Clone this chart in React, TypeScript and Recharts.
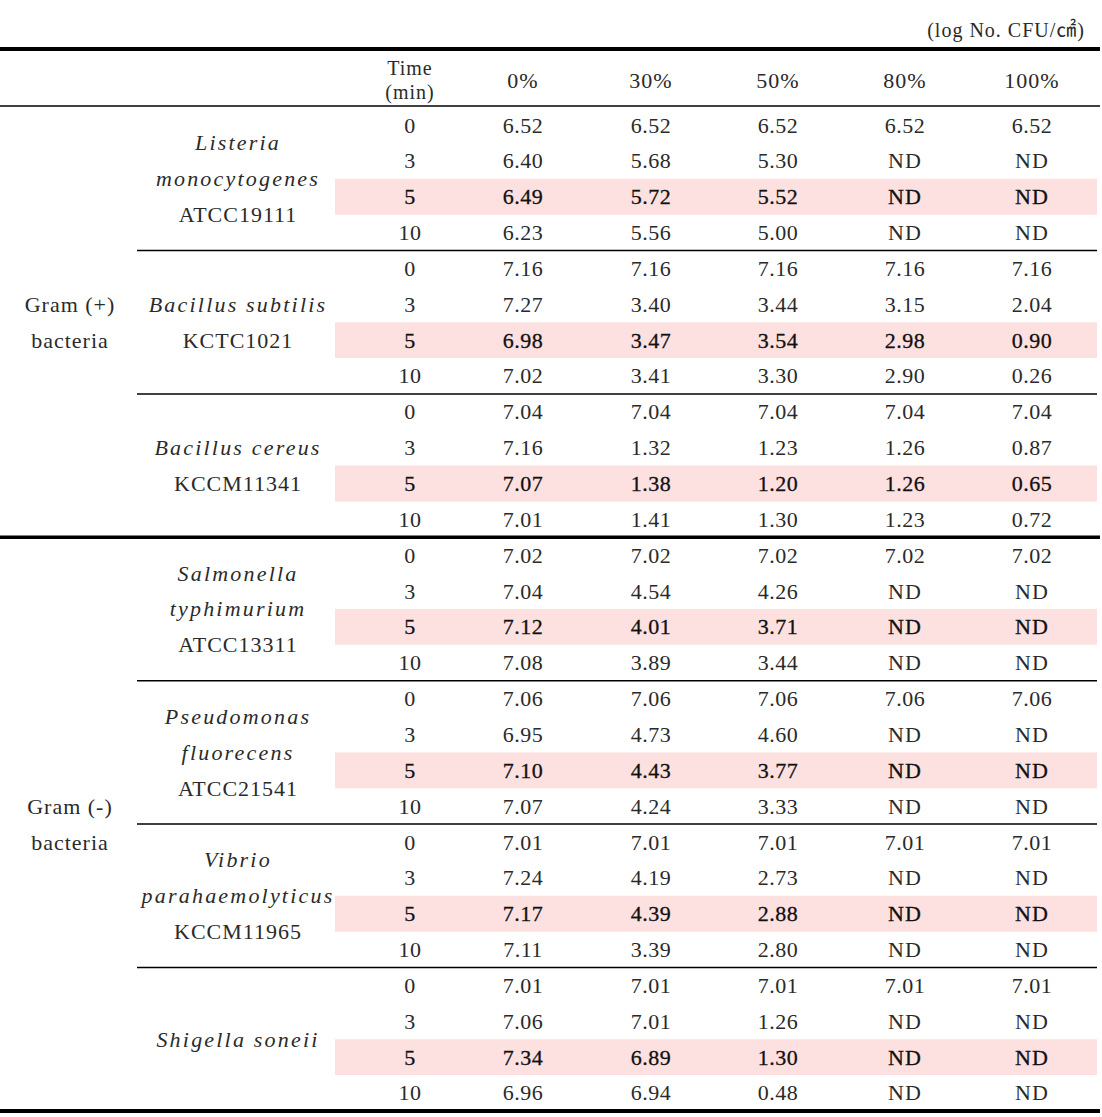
/**
 * Survival table - log CFU per concentration and exposure time
 * Drawn as text marks on a ScatterChart grid
 */

import {
  ScatterChart,
  Scatter,
  XAxis,
  YAxis,
  ReferenceArea,
  ReferenceLine,
} from 'recharts'

// Data
const unitLabel = '(log No. CFU/㎠)'
const concentrations = ['0%', '30%', '50%', '80%', '100%']
const times = [0, 3, 5, 10]
const highlightTime = 5

type Row = (number | null)[] // null = ND

const listeria: Row[] = [
  [6.52, 6.52, 6.52, 6.52, 6.52],
  [6.4, 5.68, 5.3, null, null],
  [6.49, 5.72, 5.52, null, null],
  [6.23, 5.56, 5.0, null, null],
]
const bacillusSubtilis: Row[] = [
  [7.16, 7.16, 7.16, 7.16, 7.16],
  [7.27, 3.4, 3.44, 3.15, 2.04],
  [6.98, 3.47, 3.54, 2.98, 0.9],
  [7.02, 3.41, 3.3, 2.9, 0.26],
]
const bacillusCereus: Row[] = [
  [7.04, 7.04, 7.04, 7.04, 7.04],
  [7.16, 1.32, 1.23, 1.26, 0.87],
  [7.07, 1.38, 1.2, 1.26, 0.65],
  [7.01, 1.41, 1.3, 1.23, 0.72],
]
const salmonella: Row[] = [
  [7.02, 7.02, 7.02, 7.02, 7.02],
  [7.04, 4.54, 4.26, null, null],
  [7.12, 4.01, 3.71, null, null],
  [7.08, 3.89, 3.44, null, null],
]
const pseudomonas: Row[] = [
  [7.06, 7.06, 7.06, 7.06, 7.06],
  [6.95, 4.73, 4.6, null, null],
  [7.1, 4.43, 3.77, null, null],
  [7.07, 4.24, 3.33, null, null],
]
const vibrio: Row[] = [
  [7.01, 7.01, 7.01, 7.01, 7.01],
  [7.24, 4.19, 2.73, null, null],
  [7.17, 4.39, 2.88, null, null],
  [7.11, 3.39, 2.8, null, null],
]
const shigella: Row[] = [
  [7.01, 7.01, 7.01, 7.01, 7.01],
  [7.06, 7.01, 1.26, null, null],
  [7.34, 6.89, 1.3, null, null],
  [6.96, 6.94, 0.48, null, null],
]

interface Strain {
  name: string[] // italic lines
  code?: string
  values: Row[]
}

const strains: Strain[] = [
  { name: ['Listeria', 'monocytogenes'], code: 'ATCC19111', values: listeria },
  { name: ['Bacillus  subtilis'], code: 'KCTC1021', values: bacillusSubtilis },
  { name: ['Bacillus  cereus'], code: 'KCCM11341', values: bacillusCereus },
  { name: ['Salmonella', 'typhimurium'], code: 'ATCC13311', values: salmonella },
  { name: ['Pseudomonas', 'fluorecens'], code: 'ATCC21541', values: pseudomonas },
  { name: ['Vibrio', 'parahaemolyticus'], code: 'KCCM11965', values: vibrio },
  { name: ['Shigella  soneii'], values: shigella },
]

const groups = [
  { label: ['Gram  (+)', 'bacteria'], strains: 3 },
  { label: ['Gram  (-)', 'bacteria'], strains: 4 },
]

// Layout
const WIDTH = 1102
const HEIGHT = 1117
const ROW_TOP = 125 // centre of first body row, px
const ROW_H = 35.85
const GROUP_X = 70
const STRAIN_X = 238
const TIME_X = 410
const VALUE_X = [523, 651, 778, 905, 1032]
const TABLE_RIGHT = 1100
const FONT = "'Liberation Serif', 'Times New Roman', 'DejaVu Serif', 'Noto Sans CJK KR', serif"

interface TextCell {
  x: number
  y: number
  text: string
  italic?: boolean
  emph?: boolean
  anchor?: 'start' | 'middle' | 'end'
  size?: number
}

const rowsPerStrain = times.length
const totalRows = strains.length * rowsPerStrain

function buildCells(): TextCell[] {
  const cells: TextCell[] = []

  // caption + header
  cells.push({ x: 1085, y: -2.65, text: unitLabel, anchor: 'end', size: 20 })
  cells.push({ x: TIME_X, y: -1.6, text: 'Time', size: 20 })
  cells.push({ x: TIME_X, y: -0.93, text: '(min)', size: 20 })
  concentrations.forEach((c, i) => cells.push({ x: VALUE_X[i], y: -1.23, text: c }))

  // body
  strains.forEach((s, si) => {
    const base = si * rowsPerStrain
    const lines = [...s.name.map((t) => ({ t, italic: true }))]
    if (s.code) lines.push({ t: s.code, italic: false })
    const mid = base + (rowsPerStrain - 1) / 2
    lines.forEach((l, li) => {
      cells.push({
        x: STRAIN_X,
        y: mid + li - (lines.length - 1) / 2,
        text: l.t,
        italic: l.italic,
      })
    })
    s.values.forEach((vals, ti) => {
      const r = base + ti
      const emph = times[ti] === highlightTime
      cells.push({ x: TIME_X, y: r, text: String(times[ti]), emph })
      vals.forEach((v, ci) => {
        cells.push({
          x: VALUE_X[ci],
          y: r,
          text: v == null ? 'ND' : v.toFixed(2),
          emph,
        })
      })
    })
  })

  // group labels
  let start = 0
  groups.forEach((g) => {
    const mid = start + (g.strains * rowsPerStrain - 1) / 2
    g.label.forEach((t, i) =>
      cells.push({ x: GROUP_X, y: mid + i - (g.label.length - 1) / 2, text: t })
    )
    start += g.strains * rowsPerStrain
  })

  return cells
}

const cells = buildCells()

// group boundaries (row index where each group ends)
const groupEnds: number[] = []
{
  let acc = 0
  groups.forEach((g) => {
    acc += g.strains * rowsPerStrain
    groupEnds.push(acc - 0.5)
  })
}
const strainEnds = strains
  .map((_, i) => (i + 1) * rowsPerStrain - 0.5)
  .filter((r) => !groupEnds.includes(r))

const yMin = -ROW_TOP / ROW_H
const yMax = (HEIGHT - ROW_TOP) / ROW_H

function TextShape(props: any) {
  const { cx, cy, payload } = props
  const c = payload as TextCell
  const numeric = /^[0-9.]+$/.test(c.text)
  return (
    <text
      x={cx}
      y={cy}
      textAnchor={c.anchor || 'middle'}
      dominantBaseline="central"
      style={{
        fontFamily: FONT,
        fontSize: c.size || 22,
        fontStyle: c.italic ? 'italic' : 'normal',
        letterSpacing: c.italic ? 2.2 : numeric ? 0.5 : 1,
      }}
      fill={c.emph ? '#111' : '#2a2a2a'}
      stroke={c.emph ? '#111' : 'none'}
      strokeWidth={c.emph ? 0.3 : 0}
    >
      {c.text}
    </text>
  )
}

export default function App() {
  return (
    <div style={{ position: 'absolute', left: 0, top: 0, background: '#fff' }}>
      <ScatterChart
        width={WIDTH}
        height={HEIGHT}
        margin={{ top: 0, right: 0, bottom: 0, left: 0 }}
      >
        <XAxis type="number" dataKey="x" domain={[0, WIDTH]} hide />
        <YAxis
          type="number"
          dataKey="y"
          domain={[yMin, yMax]}
          reversed
          hide
          width={0}
        />

        {/* highlighted rows */}
        {strains.map((_, si) => {
          const r = si * rowsPerStrain + times.indexOf(highlightTime)
          return (
            <ReferenceArea
              key={`hl-${si}`}
              x1={335}
              x2={1097}
              y1={r - 0.5}
              y2={r + 0.5}
              fill="#fde0e0"
              fillOpacity={1}
              stroke="none"
            />
          )
        })}

        {/* rules */}
        <ReferenceLine
          segment={[{ x: 0, y: -2.12 }, { x: TABLE_RIGHT, y: -2.12 }]}
          stroke="#000"
          strokeWidth={4}
        />
        <ReferenceLine
          segment={[{ x: 0, y: -0.53 }, { x: TABLE_RIGHT, y: -0.53 }]}
          stroke="#000"
          strokeWidth={1.5}
        />
        {strainEnds.map((r) => (
          <ReferenceLine
            key={`s-${r}`}
            segment={[{ x: 137, y: r }, { x: 1097, y: r }]}
            stroke="#000"
            strokeWidth={1.5}
          />
        ))}
        {groupEnds.map((r) => (
          <ReferenceLine
            key={`g-${r}`}
            segment={[{ x: 0, y: r }, { x: TABLE_RIGHT, y: r }]}
            stroke="#000"
            strokeWidth={r === totalRows - 0.5 ? 4 : 3.5}
          />
        ))}

        <Scatter data={cells} shape={TextShape} isAnimationActive={false} />
      </ScatterChart>
    </div>
  )
}
